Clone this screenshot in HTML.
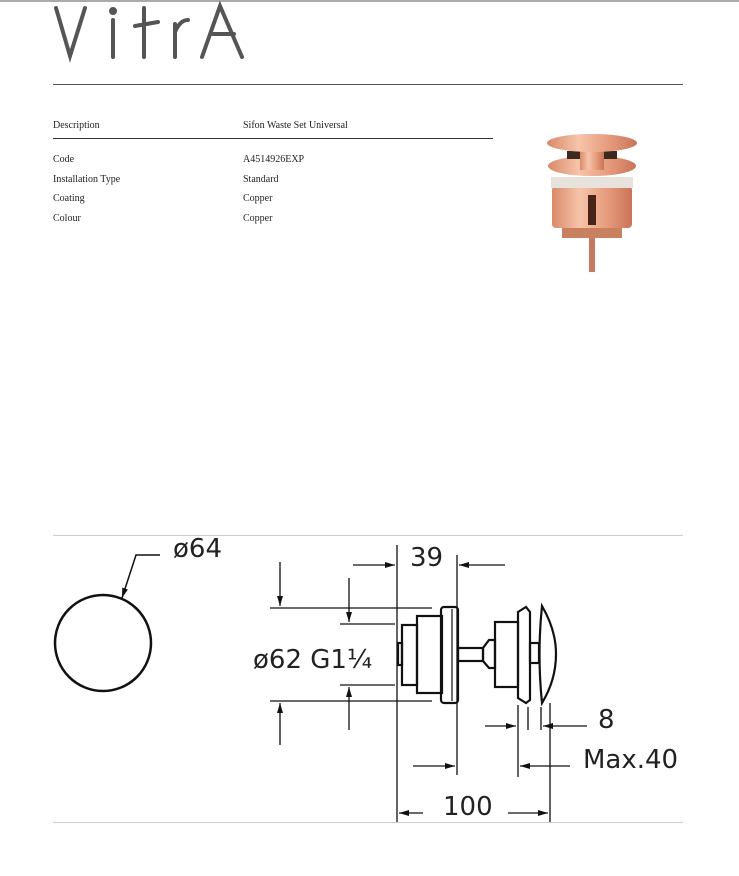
<!DOCTYPE html>
<html><head><meta charset="utf-8"><style>
body{margin:0;background:#fff;width:739px;height:876px;overflow:hidden}
svg{display:block}
.t{font-family:"Liberation Serif",serif;font-size:10px;fill:#222}
.d{font-family:"DejaVu Sans","Liberation Sans",sans-serif;font-size:26px;fill:#222}
</style></head><body>
<svg width="739" height="876" viewBox="0 0 739 876">
<defs>
<linearGradient id="cu" x1="0" x2="1"><stop offset="0" stop-color="#d98a6a"/><stop offset=".35" stop-color="#f7c4aa"/><stop offset=".7" stop-color="#e59a7a"/><stop offset="1" stop-color="#c9745a"/></linearGradient>
<marker id="a" viewBox="0 0 10 6" refX="10" refY="3" markerWidth="10" markerHeight="6" markerUnits="userSpaceOnUse" orient="auto"><path d="M0,0L10,3L0,6z" fill="#111"/></marker>
</defs>
<rect x="0" y="0" width="739" height="2" fill="#aaa"/>
<g stroke="#555" stroke-width="4" stroke-linecap="round" fill="none">
<path d="M56,8 L70,56 L85,8"/>
<path d="M113,20 L113,57"/><circle cx="113" cy="11" r="2" fill="#555"/>
<path d="M144,8 L144,57 M135,26 L158,22"/>
<path d="M175,24 L175,57 M175,32 Q180,20 188,20"/>
<path d="M202,57 L220,6 L242,57 M213,34 L234,34"/>
</g>
<rect x="53" y="84" width="630" height="1" fill="#555"/>
<text class="t" x="53" y="128">Description</text><text class="t" x="243" y="128">Sifon Waste Set Universal</text>
<rect x="53" y="138" width="440" height="1" fill="#333"/>
<text class="t" x="53" y="162">Code</text><text class="t" x="243" y="162">A4514926EXP</text>
<text class="t" x="53" y="182">Installation Type</text><text class="t" x="243" y="182">Standard</text>
<text class="t" x="53" y="201">Coating</text><text class="t" x="243" y="201">Copper</text>
<text class="t" x="53" y="221">Colour</text><text class="t" x="243" y="221">Copper</text>
<!-- product -->
<rect x="589" y="236" width="6" height="36" fill="#c47a5f"/>
<rect x="562" y="225" width="60" height="13" fill="#c9805f"/>
<rect x="552" y="186" width="80" height="42" rx="4" fill="url(#cu)"/>
<rect x="588" y="195" width="8" height="30" fill="#4a2418"/>
<rect x="551" y="177" width="82" height="11" fill="#e8e2dc"/>
<ellipse cx="592" cy="166" rx="44" ry="10" fill="url(#cu)"/>
<rect x="567" y="151" width="50" height="8" fill="#3a2a22"/>
<rect x="580" y="150" width="24" height="20" fill="url(#cu)"/>
<ellipse cx="592" cy="143" rx="45" ry="9" fill="url(#cu)"/>
<!-- drawing frame -->
<rect x="53" y="535" width="630" height="1" fill="#ccc"/>
<rect x="53" y="822" width="630" height="1" fill="#ccc"/>
<g stroke="#111" fill="none">
<circle cx="103" cy="643" r="48" stroke-width="2.5"/>
<path d="M160,555 L136,555 L122,598" stroke-width="1.5" marker-end="url(#a)"/>
<g stroke-width="1.3">
<path d="M397,545 V822 M457,555 V775"/>
<path d="M353,565 H395" marker-end="url(#a)"/><path d="M505,565 H459" marker-end="url(#a)"/>
<path d="M270,608 H432 M340,624 H395 M340,685 H395 M270,701 H432"/>
<path d="M280,562 V606" marker-end="url(#a)"/><path d="M280,745 V703" marker-end="url(#a)"/>
<path d="M349,578 V622" marker-end="url(#a)"/><path d="M349,730 V687" marker-end="url(#a)"/>
<path d="M518,705 V777 M528,707 V730 M541,707 V730 M550,703 V822"/>
<path d="M485,726 H516" marker-end="url(#a)"/><path d="M587,726 H543" marker-end="url(#a)"/>
<path d="M570,766 H520" marker-end="url(#a)"/>
<path d="M413,766 H455" marker-end="url(#a)"/>
<path d="M423,813 H399" marker-end="url(#a)"/><path d="M508,813 H548" marker-end="url(#a)"/>
</g>
<g stroke-width="2.2">
<rect x="398" y="643" width="4" height="22"/>
<rect x="402" y="625" width="15" height="60"/>
<rect x="417" y="616" width="25" height="77"/>
<rect x="441" y="607" width="17" height="96" rx="3"/>
<path d="M452,609 V701" stroke-width="1.2"/>
<rect x="458" y="648" width="25" height="13"/>
<path d="M483,661 L483,648 L489,640 L495,640 L495,668 L489,668 Z"/>
<rect x="495" y="622" width="23" height="65"/>
<path d="M518,612 L526,607 L530,612 L530,700 L526,703 L518,698 Z"/>
<rect x="530" y="643" width="9" height="20"/>
<path d="M542,606 Q556,630 556,654 Q556,680 542,703 Q537,654 542,606 Z"/>
</g>
</g>
<text class="d" x="173" y="557">ø64</text>
<text class="d" x="410" y="566">39</text>
<text class="d" x="253" y="668">ø62 G1¼</text>
<text class="d" x="598" y="728">8</text>
<text class="d" x="583" y="768">Max.40</text>
<text class="d" x="443" y="815">100</text>
</svg>
</body></html>
